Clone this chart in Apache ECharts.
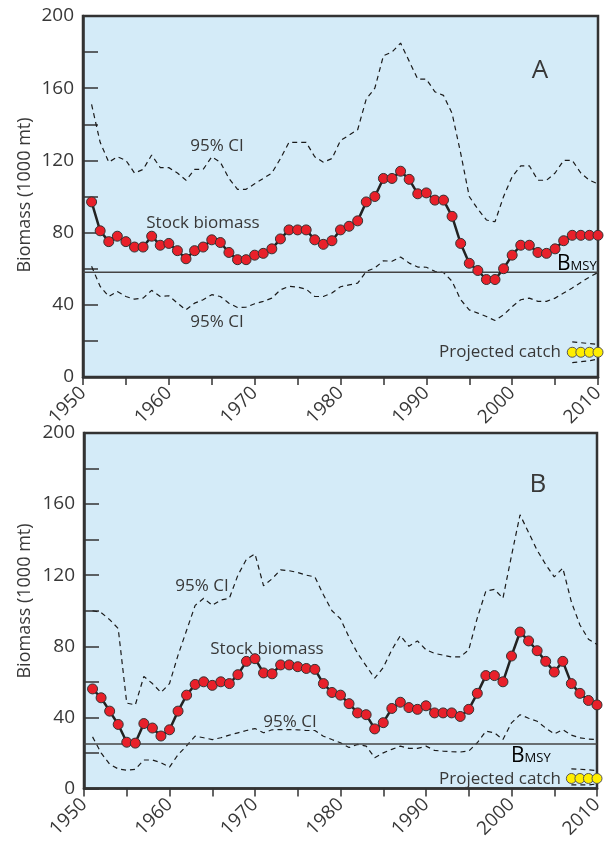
<!DOCTYPE html>
<html><head><meta charset="utf-8">
<script src="https://cdn.jsdelivr.net/npm/echarts@6/dist/echarts.min.js"></script>
<style>html,body{margin:0;padding:0;background:#fff}#c{width:608px;height:841px}</style>
</head><body><div id="c"></div>
<script>
var years = [1951,1952,1953,1954,1955,1956,1957,1958,1959,1960,
  1961,1962,1963,1964,1965,1966,1967,1968,1969,1970,
  1971,1972,1973,1974,1975,1976,1977,1978,1979,1980,
  1981,1982,1983,1984,1985,1986,1987,1988,1989,1990,
  1991,1992,1993,1994,1995,1996,1997,1998,1999,2000,
  2001,2002,2003,2004,2005,2006,2007,2008,2009,2010];
var xTickLabels = ['1950','1960','1970','1980','1990','2000','2010'];
var yTickLabels = ['0','40','80','120','160','200'];

var stockA = [97,81,75,78,75,72,72,78,73,74,
  70,65.5,70,72,76,74.5,69,65,65,67.5,
  68.5,71,76.5,81.5,81.5,81.5,76,73.5,75.5,81.5,
  83.5,86.5,97,100,110,110,114,109.5,101.5,102,
  98,98,89,74,63,59,54,54,60,67.5,
  73,73,69,68.5,71,75.5,78.5,78.5,78.5,78.5];
var upperA = [151,130,119,122,120,113,115,123,116,116,
  113,109,115,115,122,119,110,104,104,107,
  110,113,121,130,130,130,122,119,121,131,
  134,137,154,160,178,180,185,175,165,165,
  158,156,146,124,100,93,87,86,100,111,
  117,117,109,109,113,120,120,113,109,107];
var lowerA = [61.3,50.2,44.6,47.4,44.6,43.1,43.7,48,44.6,45,
  40.9,37.2,40.9,42.8,45.6,44.6,40.9,38.5,38.7,40.6,
  41.9,43.7,48.3,50.2,49.8,48.7,44.6,44.6,46.5,50,
  51,52,58.5,60.4,64.4,64.1,66.5,63.1,60.9,60.8,
  58.5,57.9,53,42.8,37.2,35.4,33.5,31.3,34.4,39,
  42.8,43.7,41.9,41.9,43.7,46.5,49.3,52.4,55.4,57.9];
var bmsyA = 58;

var stockB = [56,51,43.5,36,26,25.5,36.5,34,29.5,33,
  43.5,52.5,58.5,60,58,60,59,64,71.5,73,
  65,64.5,69.5,69.5,68.5,67.5,67,59,54,52.5,
  47.7,42.5,41.5,33.5,37,45,48.5,45.5,44.5,46.5,
  42.5,42.5,42.5,40.5,44.5,53.5,63.5,63.5,60,74.5,
  88,83,77.5,71.5,65.5,71.5,59,53.5,49.5,47];
var upperB = [100,99,95,90,48,47,63,59,54,59,
  75,89,103,107,103,106,107,120,129,132,
  114,118,123,122.5,121.5,120,119,109,100,95.5,
  85,76,69,62,68,78,86,80,83,78,
  76,75,74,74,78,96,111,112,107,131,
  154,144,134,126,119,124,105,92,84,81];
var lowerB = [29,20,13.6,11,10.2,10.8,16,16,14.5,12,
  19,24,29.4,28.5,27.5,28.5,30,31.3,32.6,33.7,
  31.3,33,33.1,33.1,33,32.6,32.6,29.4,27.5,25.7,
  23,24.8,23.8,17.3,20,22,23.8,22.5,22.5,23.8,
  21.4,21,20.7,20.5,21,25.7,32.2,31.3,27.5,36.9,
  41.5,39.5,37.8,34,30.7,33,30,28.5,27.8,27.5];
var bmsyB = 25;

var projYears = [2007,2008,2009,2010];
var catchA = [13.7,13.7,13.7,13.7];
var catchUpperA = [19.5,19,18.5,18];
var catchLowerA = [8,8.5,9,10];
var catchB = [5.6,5.6,5.6,5.6];
var catchUpperB = [11,10.8,10.5,10];
var catchLowerB = [2,2,2,2.5];

var FONT = "'Open Sans', 'Liberation Sans', Arial, sans-serif";
var TCOL = '#383838';
function pairs(xs, ys){ return xs.map(function(x,i){ return [x, ys[i]]; }); }

function xAxis(gi){
  return {type:'value', gridIndex:gi, min:1950, max:2010, interval:5,
    axisLine:{show:true, lineStyle:{color:'#333', width:2.5}},
    axisTick:{show:true, inside:false, length:8, lineStyle:{color:'#333', width:1.5}},
    splitLine:{show:false},
    axisLabel:{rotate:45, margin:13, fontSize:19, color:TCOL, fontFamily:FONT,
      formatter:function(v){ var s=String(v); return xTickLabels.indexOf(s)>=0 ? s : ''; }}
  };
}
function yAxis(gi){
  return {type:'value', gridIndex:gi, min:0, max:200, interval:20,
    axisLine:{show:true, lineStyle:{color:'#333', width:2.5}},
    axisTick:{show:true, inside:true, length:15, lineStyle:{color:'#333', width:1.5}},
    splitLine:{show:false},
    axisLabel:{margin:9, fontSize:19, color:TCOL, fontFamily:FONT,
      formatter:function(v){ var s=String(v); return yTickLabels.indexOf(s)>=0 ? s : ''; }}
  };
}
function dashed(gi, data){
  return {type:'line', xAxisIndex:gi, yAxisIndex:gi, data:data, symbol:'none', z:3,
    lineStyle:{color:'#1a1a1a', width:1.2, type:[5,4]}, silent:true};
}
function seriesFor(gi, stock, up, low, bmsy, cat, cu, cl){
  return [
    dashed(gi, pairs(years, up)),
    dashed(gi, pairs(years, low)),
    dashed(gi, pairs(projYears, cu)),
    dashed(gi, pairs(projYears, cl)),
    {type:'line', xAxisIndex:gi, yAxisIndex:gi, data:[[1950,bmsy],[2010,bmsy]], symbol:'none', z:3,
      lineStyle:{color:'#444', width:1.5}},
    {type:'line', xAxisIndex:gi, yAxisIndex:gi, data:pairs(years, stock), z:5,
      symbol:'circle', symbolSize:10, clip:false,
      lineStyle:{color:'#222', width:2.5},
      itemStyle:{color:'#e8202a', borderColor:'#333', borderWidth:1}},
    {type:'scatter', xAxisIndex:gi, yAxisIndex:gi, data:pairs(projYears, cat), z:6,
      symbol:'circle', symbolSize:10, clip:false,
      itemStyle:{color:'#ffee00', borderColor:'#555', borderWidth:1, opacity:1}}
  ];
}
function txt(x, y, s, size, align){
  return {type:'text', x:x, y:y, z:100, style:{text:s, fontSize:size||17, fontFamily:FONT, fill:TCOL,
    textAlign:align||'center', textVerticalAlign:'middle'}};
}
function bmsyText(x, y){
  return {type:'text', x:x, y:y, z:100, style:{
    text:'{a|B}{b|MSY}', textAlign:'left', textVerticalAlign:'middle',
    rich:{a:{fontSize:21, fontFamily:FONT, color:TCOL, verticalAlign:'bottom'},
          b:{fontSize:13, fontFamily:FONT, color:TCOL, verticalAlign:'bottom', padding:[0,0,2,0]}}}};
}
function yName(x, y){
  return {type:'text', x:x, y:y, rotation:Math.PI/2, z:100, style:{text:'Biomass (1000 mt)', fontSize:18,
    fontFamily:FONT, fill:TCOL, textAlign:'center', textVerticalAlign:'middle'}};
}

var chart = echarts.init(document.getElementById('c'), null, {renderer:'canvas'});
chart.setOption({
  animation:false,
  backgroundColor:'#fff',
  grid:[
    {left:83, top:16, width:515, height:361, show:true, backgroundColor:'#d4ebf8', borderColor:'#333', borderWidth:2.5},
    {left:84, top:433, width:513, height:358, show:true, backgroundColor:'#d4ebf8', borderColor:'#333', borderWidth:2.5}
  ],
  xAxis:[xAxis(0), xAxis(1)],
  yAxis:[yAxis(0), yAxis(1)],
  series: seriesFor(0, stockA, upperA, lowerA, bmsyA, catchA, catchUpperA, catchLowerA)
    .concat(seriesFor(1, stockB, upperB, lowerB, bmsyB, catchB, catchUpperB, catchLowerB)),
  graphic:[
    yName(25,195), yName(25,601),
    txt(540,71,'A',26), txt(538,485,'B',26),
    txt(217,146,'95% CI'), txt(203,223,'Stock biomass'), txt(217,322,'95% CI'),
    bmsyText(557,264), txt(561,352,'Projected catch',17,'right'),
    txt(202,586,'95% CI'), txt(267,649,'Stock biomass'), txt(290,722,'95% CI'),
    bmsyText(511,756), txt(561,779,'Projected catch',17,'right')
  ]
});
</script>
</body></html>
